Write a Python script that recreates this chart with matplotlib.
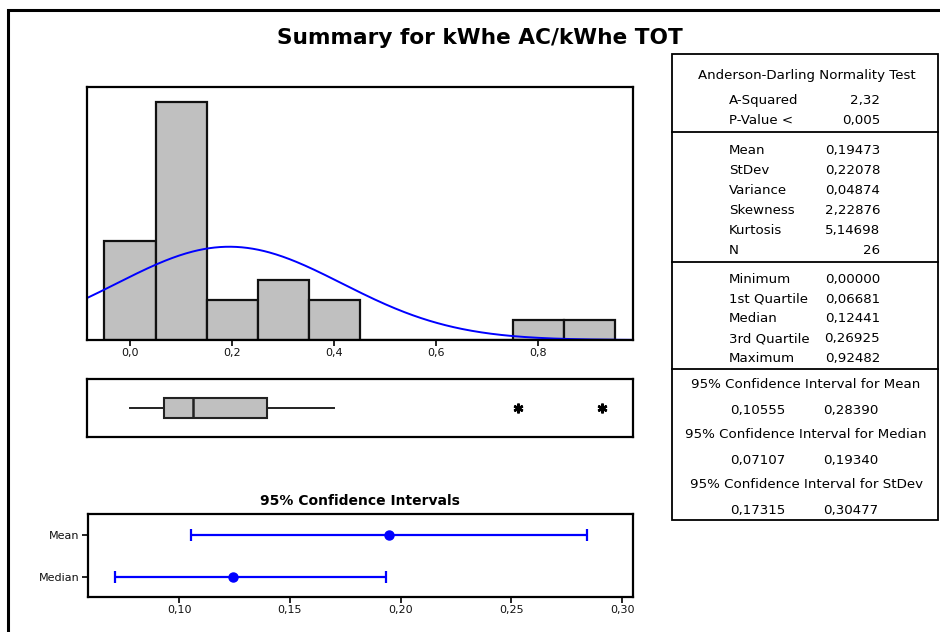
import matplotlib
matplotlib.use("Agg")
import matplotlib.pyplot as plt
import numpy as np
from matplotlib.patches import Rectangle
from matplotlib.lines import Line2D
from matplotlib.ticker import FuncFormatter

# Histogram of kWhe AC / kWhe TOT (bin width 0.1)
bin_left = [-0.05, 0.05, 0.15, 0.25, 0.35, 0.45, 0.55, 0.65, 0.75, 0.85]
bin_counts = [5, 12, 2, 3, 2, 0, 0, 0, 1, 1]
bin_width = 0.1

# Descriptive statistics
ad_squared = 2.32
p_value = 0.005
mean = 0.19473
stdev = 0.22078
variance = 0.04874
skewness = 2.22876
kurtosis = 5.14698
n_obs = 26
minimum = 0.00000
q1 = 0.06681
median = 0.12441
q3 = 0.26925
maximum = 0.92482

# Box plot whisker end and outliers
whisker_hi = 0.40
outliers = [0.76, 0.92482]

# 95% confidence intervals
ci_names = ["Mean", "Median"]
ci_centers = [mean, median]
ci_low = [0.10555, 0.07107]
ci_high = [0.28390, 0.19340]
ci_stdev = [0.17315, 0.30477]

W, H = 940, 632
BLUE = "#0000FF"
GREY = "#C0C0C0"
FONT = "DejaVu Sans"

plt.rcParams["font.family"] = FONT


def px_rect(left, top, right, bottom):
    return [left / W, 1 - bottom / H, (right - left) / W, (bottom - top) / H]


def fx(x):
    return x / W


def fy(y):
    return 1 - y / H


def comma(v, digits):
    return f"{v:.{digits}f}".replace(".", ",")


def style_axes(ax):
    for s in ax.spines.values():
        s.set_linewidth(1.6)
        s.set_color("black")
    ax.tick_params(axis="both", length=4, width=1.2, labelsize=8, colors="black",
                   labelcolor="#111111", pad=2)


fig = plt.figure(figsize=(W / 100, H / 100), dpi=100)

# outer frame (runs off the right and bottom edges)
fig.patches.append(Rectangle((fx(8), -0.1), 1.2, fy(10) + 0.1, transform=fig.transFigure,
                             fill=False, lw=2.2, edgecolor="black", clip_on=False))

fig.text(fx(480), fy(38), "Summary for kWhe AC/kWhe TOT", ha="center", va="center",
         fontsize=15.6, fontweight="bold")

# --- histogram with fitted normal curve ---
ax_h = fig.add_axes(px_rect(87.3, 86.7, 633, 340))
ax_h.bar(bin_left, bin_counts, width=bin_width, align="edge", color=GREY,
         edgecolor="#111111", linewidth=1.6)
xs = np.linspace(-0.0837, 0.986, 400)
pdf = n_obs * bin_width * np.exp(-0.5 * ((xs - mean) / stdev) ** 2) / (stdev * np.sqrt(2 * np.pi))
ax_h.plot(xs, pdf, color=BLUE, lw=1.4)
ax_h.set_xlim(-0.0837, 0.986)
ax_h.set_ylim(0, 12.76)
ax_h.set_xticks([0.0, 0.2, 0.4, 0.6, 0.8])
ax_h.xaxis.set_major_formatter(FuncFormatter(lambda v, p: comma(v, 1)))
ax_h.set_yticks([])
style_axes(ax_h)

# --- box plot ---
ax_b = fig.add_axes(px_rect(87.3, 379.3, 633, 436.7))
box_stats = [{"whislo": minimum, "q1": q1, "med": median, "q3": q3,
              "whishi": whisker_hi, "fliers": outliers}]
ax_b.bxp(box_stats, positions=[0], widths=0.35, orientation="horizontal",
         showcaps=False, patch_artist=True,
         boxprops=dict(facecolor=GREY, edgecolor="#222222", linewidth=1.5),
         medianprops=dict(color="#222222", linewidth=1.8),
         whiskerprops=dict(color="#222222", linewidth=1.4),
         flierprops=dict(marker=(6, 2, 0), markersize=7, markeredgewidth=1.8,
                         markeredgecolor="black", linestyle="none"))
ax_b.set_xlim(-0.0837, 0.986)
ax_b.set_ylim(-0.5, 0.5)
ax_b.set_xticks([])
ax_b.set_yticks([])
style_axes(ax_b)

# --- confidence interval panel ---
ax_c = fig.add_axes(px_rect(87.7, 514.3, 632.7, 596.7))
ypos = [1, 0]
xerr = [np.array(ci_centers) - np.array(ci_low), np.array(ci_high) - np.array(ci_centers)]
ax_c.errorbar(ci_centers, ypos, xerr=xerr, fmt="o", color=BLUE, ms=6.5,
              elinewidth=1.6, capsize=4.5, capthick=1.6)
ax_c.set_xlim(0.0588, 0.3047)
ax_c.set_ylim(-0.48, 1.5)
ax_c.set_yticks(ypos)
ax_c.set_yticklabels(ci_names)
ax_c.set_xticks([0.10, 0.15, 0.20, 0.25, 0.30])
ax_c.xaxis.set_major_formatter(FuncFormatter(lambda v, p: comma(v, 2)))
style_axes(ax_c)
fig.text(fx(360), fy(501), "95% Confidence Intervals", ha="center", va="center",
         fontsize=10, fontweight="bold")

# --- statistics table ---
fig.patches.append(Rectangle((fx(671.7), fy(520)), fx(938 - 671.7), (520 - 54) / H,
                             transform=fig.transFigure, fill=False, lw=1.3, edgecolor="black"))
for y in [132, 262, 369]:
    fig.lines.append(Line2D([fx(671.7), fx(938)], [fy(y), fy(y)], transform=fig.transFigure,
                            color="black", lw=1.3))

TS = 9.6
lab_x, val_x = fx(729), fx(880)


def row(y, label, value):
    fig.text(lab_x, fy(y), label, ha="left", va="center", fontsize=TS)
    fig.text(val_x, fy(y), value, ha="right", va="center", fontsize=TS)


fig.text(fx(807), fy(75), "Anderson-Darling Normality Test", ha="center", va="center", fontsize=TS)
row(100.7, "A-Squared", comma(ad_squared, 2))
row(120.7, "P-Value <", comma(p_value, 3))

desc = [("Mean", comma(mean, 5)), ("StDev", comma(stdev, 5)), ("Variance", comma(variance, 5)),
        ("Skewness", comma(skewness, 5)), ("Kurtosis", comma(kurtosis, 5)), ("N", str(n_obs))]
for i, (lab, val) in enumerate(desc):
    row(150.7 + i * 19.9, lab, val)

quart = [("Minimum", comma(minimum, 5)), ("1st Quartile", comma(q1, 5)),
         ("Median", comma(median, 5)), ("3rd Quartile", comma(q3, 5)),
         ("Maximum", comma(maximum, 5))]
for i, (lab, val) in enumerate(quart):
    row(279.3 + i * 19.75, lab, val)

ci_rows = [("95% Confidence Interval for Mean", ci_low[0], ci_high[0]),
           ("95% Confidence Interval for Median", ci_low[1], ci_high[1]),
           ("95% Confidence Interval for StDev", ci_stdev[0], ci_stdev[1])]
for i, (head, lo, hi) in enumerate(ci_rows):
    y0 = 385 + i * 50
    fig.text(fx(806), fy(y0), head, ha="center", va="center", fontsize=TS)
    fig.text(fx(730), fy(y0 + 25.5), comma(lo, 5), ha="left", va="center", fontsize=TS)
    fig.text(fx(878), fy(y0 + 25.5), comma(hi, 5), ha="right", va="center", fontsize=TS)

fig.savefig("out.png", dpi=100, facecolor="white")
